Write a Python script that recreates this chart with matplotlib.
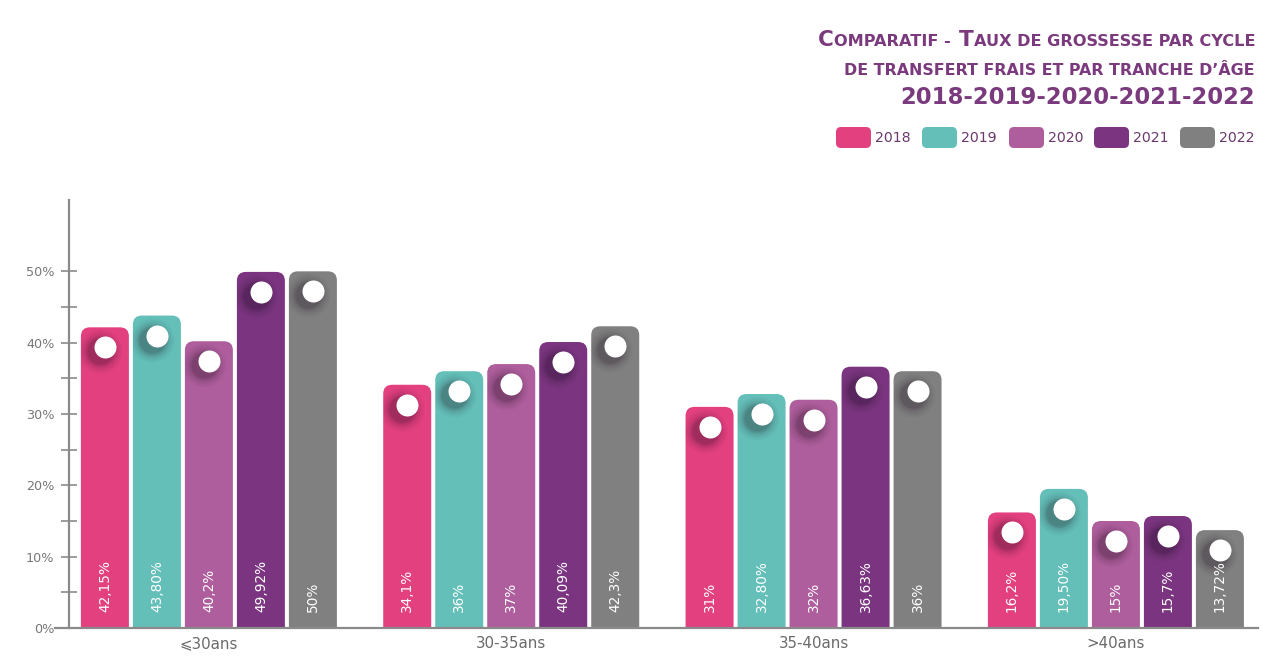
import matplotlib
matplotlib.use("Agg")
import matplotlib.pyplot as plt
from matplotlib.patches import FancyBboxPatch
import matplotlib.transforms as mtransforms

plt.rcParams['font.family'] = ['DejaVu Sans']

# ---------------- data ----------------
categories = ['⩽30ans', '30-35ans', '35-40ans', '>40ans']
years = ['2018', '2019', '2020', '2021', '2022']
values_2018 = [42.15, 34.1, 31.0, 16.2]
values_2019 = [43.80, 36.0, 32.80, 19.50]
values_2020 = [40.2, 37.0, 32.0, 15.0]
values_2021 = [49.92, 40.09, 36.63, 15.7]
values_2022 = [50.0, 42.3, 36.0, 13.72]
labels_2018 = ['42,15%', '34,1%', '31%', '16,2%']
labels_2019 = ['43,80%', '36%', '32,80%', '19,50%']
labels_2020 = ['40,2%', '37%', '32%', '15%']
labels_2021 = ['49,92%', '40,09%', '36,63%', '15,7%']
labels_2022 = ['50%', '42,3%', '36%', '13,72%']
yticks = [0, 10, 20, 30, 40, 50]
ytick_labels = ['0%', '10%', '20%', '30%', '40%', '50%']

series = [values_2018, values_2019, values_2020, values_2021, values_2022]
series_labels = [labels_2018, labels_2019, labels_2020, labels_2021, labels_2022]
colors = ['#E2407F', '#64BFB9', '#AE5E9C', '#7B3580', '#808080']

W, H = 1280, 672
fig = plt.figure(figsize=(W / 100, H / 100), dpi=100)
ax_left, ax_right, ax_top, ax_bottom = 55, 1258, 200, 628
ax = fig.add_axes([ax_left / W, 1 - ax_bottom / H, (ax_right - ax_left) / W, (ax_bottom - ax_top) / H])
xmin, xmax = -0.509, 3.470
ymin, ymax = 0, 60
ax.set_xlim(xmin, xmax)
ax.set_ylim(ymin, ymax)
ppx = (ax_right - ax_left) / (xmax - xmin)
ppy = (ax_bottom - ax_top) / (ymax - ymin)

bar_w = 48 / ppx
step = 52 / ppx
radius = 9 / ppx

shadow_layers = [(22, 0.03), (20, 0.04), (18, 0.05), (16, 0.065), (14.5, 0.08), (13, 0.10)]
for j, (vals, labs, col) in enumerate(zip(series, series_labels, colors)):
    for i, (v, lab) in enumerate(zip(vals, labs)):
        x = i + (j - 2) * step
        patch = FancyBboxPatch((x - bar_w / 2, -3), bar_w, v + 3,
                               boxstyle=f"round,pad=0,rounding_size={radius}",
                               mutation_aspect=ppx / ppy, fc=col, ec='none', zorder=2)
        ax.add_patch(patch)
        # soft shadow below-left of the white dot
        for rad, a in shadow_layers:
            tr = mtransforms.offset_copy(ax.transData, fig, x=-5, y=-24, units='dots')
            sc = ax.scatter([x], [v], s=(2 * rad / 1.389) ** 2, color='#1a0a1a', alpha=a,
                            transform=tr, zorder=3, linewidths=0)
            sc.set_clip_path(patch)
        trc = mtransforms.offset_copy(ax.transData, fig, x=0, y=-20, units='dots')
        ax.scatter([x], [v], s=(22 / 1.389) ** 2, color='white', transform=trc, zorder=4,
                   linewidths=0)
        trt = mtransforms.offset_copy(ax.transData, fig, x=0, y=16, units='dots')
        ax.text(x, 0, lab, rotation=90, ha='center', va='bottom', color='white',
                fontsize=9.8, transform=trt, zorder=5)

for s in ['top', 'right']:
    ax.spines[s].set_visible(False)
ax.spines['left'].set_position(('data', (69 - ax_left) / ppx + xmin))
for s in ['left', 'bottom']:
    ax.spines[s].set_color('#8a8a8a')
    ax.spines[s].set_linewidth(1.6)
ax.spines['bottom'].set_zorder(6)
ax.set_yticks(yticks)
ax.set_yticklabels(ytick_labels)
ax.set_yticks([5, 15, 25, 35, 45], minor=True)
ax.tick_params(axis='y', which='both', direction='inout', length=11, width=1.2,
               color='#8a8a8a', labelsize=9.2, labelcolor='#777777', pad=5)
ax.set_xticks(range(len(categories)))
ax.set_xticklabels(categories)
ax.tick_params(axis='x', length=0, labelsize=10.8, labelcolor='#6a6a6a', pad=6)
ax.patch.set_alpha(0)

# ---------------- overlay for title and legend ----------------
oax = fig.add_axes([0, 0, 1, 1], zorder=-1)
oax.set_xlim(0, W)
oax.set_ylim(H, 0)
oax.axis('off')

renderer = fig.canvas.get_renderer()
title_color = '#7A3A7D'


def draw_line(pieces, right_x, baseline_y, weight='bold'):
    texts = []
    for txt, size, gap in pieces:
        t = oax.text(0, baseline_y, txt, fontsize=size, fontweight=weight, color=title_color,
                     ha='left', va='baseline')
        texts.append((t, gap))
    widths = [t.get_window_extent(renderer).width for t, _ in texts]
    total = sum(widths) + sum(g for _, g in texts)
    x = right_x - total
    for (t, gap), w in zip(texts, widths):
        x += gap
        t.set_x(x)
        x += w


draw_line([('C', 15.5, 0), ('OMPARATIF -', 11.6, 0), ('T', 15.5, 8),
           ('AUX DE GROSSESSE PAR CYCLE', 11.6, 0)], 1255, 46)
draw_line([('DE TRANSFERT FRAIS ET PAR TRANCHE D’ÂGE', 11.4, 0)], 1255, 75)
draw_line([('2018-2019-2020-2021-2022', 16.4, 0)], 1255, 104)

legend_patch_x = [836, 922, 1009, 1094, 1180]
for lx, yr, col in zip(legend_patch_x, years, colors):
    p = FancyBboxPatch((lx, 127), 35, 21, boxstyle="round,pad=0,rounding_size=5",
                       fc=col, ec='none')
    oax.add_patch(p)
    oax.text(lx + 39, 138, yr, fontsize=10.2, color='#6A3A6C', ha='left', va='center')

fig.savefig('out.png', dpi=100)
